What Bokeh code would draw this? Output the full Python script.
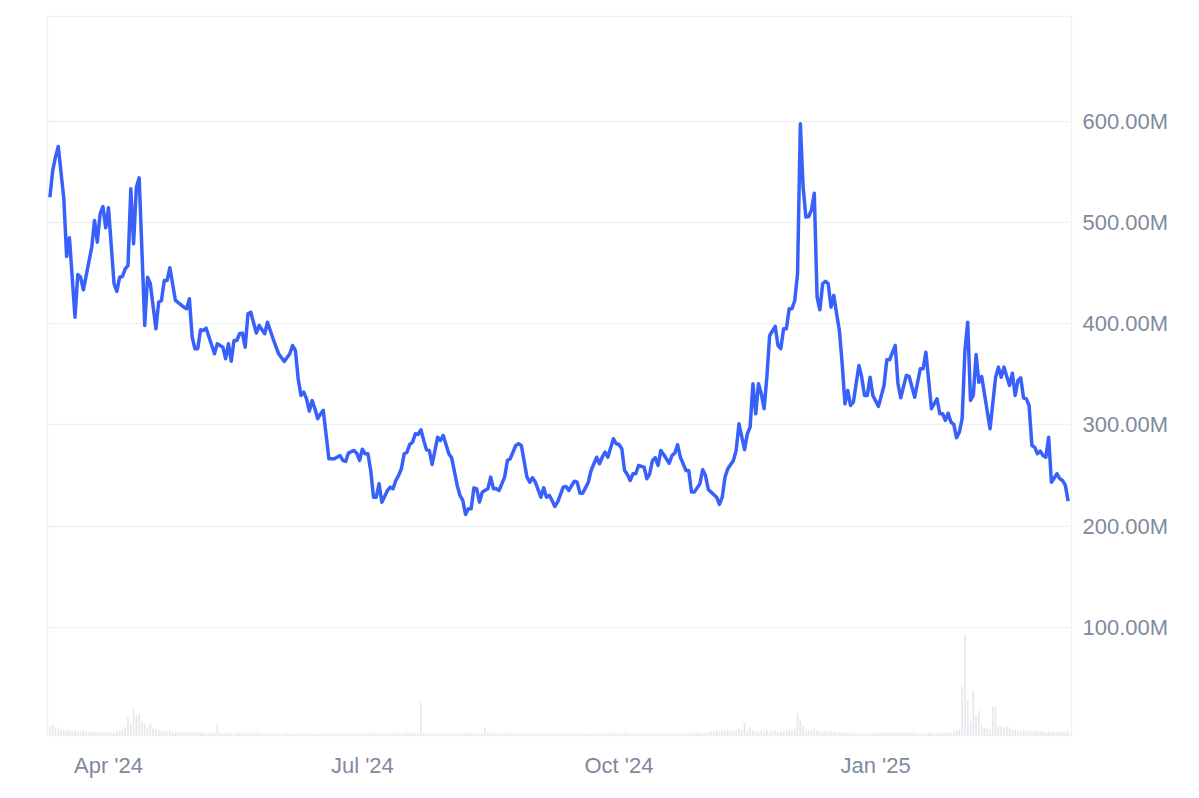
import pandas as pd
from bokeh.plotting import figure
from bokeh.models import Range1d, FixedTicker, CustomJSTickFormatter, DatetimeTickFormatter
from bokeh.embed import file_html
from bokeh.resources import INLINE

START = pd.Timestamp("2024-03-10")

# market cap series: day offset from START, value in millions USD
price_day = [
    1, 2, 3, 4, 6, 7, 8, 10, 11, 12, 13, 16, 17, 18, 19, 20, 21, 22, 24, 25,
    26, 27, 28, 29, 30, 31, 32, 33, 35, 36, 37, 39, 40, 41, 42, 43, 44, 46, 49, 50,
    51, 52, 53, 54, 55, 56, 57, 60, 61, 63, 64, 65, 66, 67, 68, 69, 70, 71, 72, 73,
    75, 76, 78, 79, 81, 83, 85, 87, 88, 89, 90, 91, 92, 93, 94, 95, 96, 97, 98, 99,
    101, 103, 105, 106, 107, 108, 110, 111, 112, 113, 114, 115, 116, 117, 118, 119, 120, 122, 123, 124,
    125, 126, 127, 128, 129, 130, 131, 132, 133, 134, 135, 136, 137, 138, 140, 141, 142, 144, 145, 147,
    148, 149, 150, 151, 152, 153, 154, 155, 156, 158, 159, 160, 161, 162, 164, 165, 166, 168, 169, 170,
    172, 173, 174, 175, 177, 178, 179, 180, 181, 182, 183, 185, 186, 187, 189, 190, 191, 192, 194, 195,
    196, 197, 198, 199, 200, 201, 203, 204, 205, 206, 207, 208, 209, 210, 211, 212, 214, 215, 216, 217,
    218, 219, 220, 221, 223, 224, 225, 226, 227, 229, 230, 231, 232, 234, 235, 236, 237, 238, 240, 241,
    242, 243, 244, 246, 247, 248, 250, 251, 252, 253, 254, 255, 256, 257, 258, 259, 261, 262, 263, 264,
    265, 266, 267, 268, 269, 270, 271, 272, 273, 274, 275, 276, 277, 278, 279, 280, 281, 282, 283, 284,
    285, 286, 287, 288, 289, 290, 291, 292, 293, 294, 295, 296, 298, 300, 301, 302, 304, 305, 306, 308,
    309, 311, 313, 314, 315, 317, 319, 320, 321, 322, 323, 324, 325, 326, 327, 328, 329, 330, 331, 332,
    333, 334, 335, 338, 340, 341, 342, 343, 344, 345, 346, 347, 348, 349, 350, 351, 352, 353, 354, 355,
    356, 357, 358, 359, 360, 362, 363, 364, 365, 366,
]
market_cap_m = [
    524.9, 551.3, 564.5, 575.0, 523.3, 466.3, 484.8, 406.4, 448.6, 446.0, 433.4, 475.5, 501.9, 480.5, 508.5, 515.7, 494.7, 514.5, 439.4, 431.8,
    445.9, 446.6, 454.2, 457.4, 533.2, 478.9, 534.8, 544.1, 398.2, 445.9, 439.4, 394.9, 421.2, 422.9, 442.6, 442.6, 455.2, 422.9, 416.3, 414.7,
    424.6, 386.6, 375.2, 375.2, 393.9, 393.2, 395.5, 370.2, 380.1, 376.7, 365.3, 380.1, 362.9, 383.3, 383.3, 390.0, 390.6, 376.7, 409.7, 411.3,
    390.6, 398.2, 390.0, 401.4, 385.0, 370.2, 362.6, 370.2, 378.4, 373.5, 345.5, 329.0, 332.3, 325.7, 313.5, 324.1, 315.9, 306.0, 310.9, 314.2,
    266.5, 266.5, 269.7, 264.8, 263.8, 272.0, 274.7, 272.0, 264.8, 275.9, 271.4, 271.4, 254.9, 228.5, 228.5, 241.8, 223.6, 235.1, 238.4, 236.8,
    245.0, 250.0, 256.6, 271.4, 273.0, 280.6, 282.9, 291.2, 290.5, 295.1, 284.5, 275.4, 274.7, 260.8, 287.8, 284.5, 289.5, 271.4, 267.5, 240.1,
    230.2, 225.3, 211.4, 217.1, 217.1, 237.8, 236.8, 223.6, 233.5, 236.8, 248.3, 236.8, 237.0, 235.1, 248.3, 264.8, 266.5, 279.6, 281.3, 279.6,
    248.3, 243.3, 247.7, 243.3, 228.5, 237.8, 228.5, 230.2, 225.3, 219.3, 223.6, 238.4, 239.1, 235.1, 244.3, 243.3, 232.5, 232.5, 243.3, 254.9,
    261.5, 268.0, 261.5, 268.0, 273.0, 268.0, 286.2, 281.3, 280.6, 276.3, 254.9, 251.0, 245.0, 251.6, 251.6, 259.8, 258.2, 246.7, 251.6, 264.8,
    267.5, 259.8, 274.7, 270.7, 262.1, 269.7, 272.0, 280.3, 268.0, 254.9, 254.9, 233.5, 233.5, 241.8, 255.6, 250.0, 236.1, 233.5, 228.5, 221.3,
    228.5, 248.3, 256.6, 264.8, 274.7, 301.0, 275.4, 291.2, 297.7, 340.6, 310.9, 340.6, 330.7, 315.9, 347.1, 388.3, 397.2, 378.4, 375.2, 394.9,
    394.9, 414.7, 414.7, 422.9, 449.2, 597.4, 534.8, 505.2, 505.9, 512.4, 528.9, 426.1, 413.7, 439.4, 441.9, 439.4, 416.3, 427.8, 409.7, 393.2,
    360.3, 320.8, 333.9, 319.1, 322.4, 340.6, 358.6, 347.1, 329.0, 329.0, 347.1, 329.0, 318.2, 338.9, 364.3, 364.3, 378.4, 340.6, 326.7, 348.8,
    347.8, 327.3, 355.4, 355.4, 371.8, 315.9, 325.7, 310.9, 310.9, 304.3, 311.5, 302.6, 300.4, 287.2, 292.8, 306.0, 373.5, 401.4, 324.1, 329.0,
    369.5, 342.1, 347.8, 296.1, 347.1, 357.0, 347.1, 357.0, 347.8, 338.9, 351.0, 329.0, 343.8, 346.5, 326.7, 325.7, 319.1, 279.6, 277.9, 271.4,
    274.0, 269.7, 268.0, 287.8, 243.3, 251.6, 246.7, 245.0, 240.1, 224.6,
]

# daily volume (millions), day 1 .. day 366
volume_m = [
    9, 11, 7, 8, 6, 5, 5, 6, 4, 5,
    4, 4, 5, 4, 3, 4, 4, 3, 4, 3,
    3, 4, 3, 3, 4, 5, 6, 9, 18, 12,
    27, 20, 22, 14, 12, 8, 12, 7, 6, 5,
    5, 4, 4, 5, 4, 3, 4, 3, 3, 4,
    3, 3, 4, 3, 3, 3, 2, 2, 3, 3,
    11, 3, 2, 3, 3, 2, 2, 3, 3, 2,
    2, 3, 2, 2, 3, 2, 2, 2, 2, 2,
    2, 2, 2, 1, 2, 2, 2, 1, 2, 2,
    2, 2, 2, 2, 2, 1, 2, 2, 2, 2,
    2, 2, 2, 1, 2, 2, 2, 2, 2, 2,
    2, 2, 2, 2, 2, 2, 3, 2, 2, 2,
    2, 2, 2, 2, 3, 2, 2, 2, 3, 3,
    3, 2, 3, 33, 3, 2, 2, 2, 2, 2,
    2, 2, 2, 2, 2, 2, 2, 2, 2, 3,
    3, 2, 2, 2, 2, 2, 7, 3, 2, 2,
    2, 2, 2, 2, 2, 3, 2, 2, 2, 2,
    2, 2, 2, 2, 2, 2, 2, 2, 2, 2,
    2, 2, 2, 2, 2, 2, 2, 2, 2, 2,
    2, 2, 2, 2, 2, 2, 2, 2, 2, 2,
    2, 3, 2, 2, 2, 2, 3, 2, 2, 2,
    2, 2, 2, 2, 2, 2, 2, 2, 2, 2,
    2, 2, 2, 2, 2, 2, 2, 2, 2, 2,
    2, 3, 3, 3, 2, 3, 3, 4, 4, 5,
    4, 5, 5, 6, 5, 4, 5, 7, 6, 13,
    5, 8, 5, 4, 4, 5, 4, 6, 4, 5,
    5, 4, 4, 4, 5, 6, 5, 7, 22, 15,
    10, 6, 5, 5, 7, 5, 4, 4, 5, 4,
    4, 4, 3, 3, 3, 3, 3, 3, 2, 2,
    2, 2, 2, 2, 2, 2, 3, 3, 3, 3,
    3, 3, 3, 3, 3, 3, 3, 3, 3, 3,
    3, 2, 2, 2, 2, 3, 3, 2, 2, 3,
    3, 3, 3, 3, 4, 5, 6, 49, 101, 35,
    14, 45, 20, 25, 10, 8, 7, 6, 29, 28,
    9, 9, 8, 9, 8, 6, 6, 5, 5, 5,
    5, 4, 4, 5, 4, 4, 4, 3, 4, 4,
    4, 3, 4, 4, 4, 5,
]

x_tick_dates = ["2024-04-01", "2024-07-01", "2024-10-01", "2025-01-01"]
y_ticks_m = [100, 200, 300, 400, 500, 600]

LINE = "#3861fb"
GRID = "#eff1f4"
TEXT = "#808a9d"
FONT = "Liberation Sans"

price_dates = [START + pd.Timedelta(days=d) for d in price_day]
vol_dates = [START + pd.Timedelta(days=i + 1) for i in range(len(volume_m))]

p = figure(
    width=1191, height=790,
    x_axis_type="datetime", y_axis_location="right",
    output_backend="svg", toolbar_location=None,
    x_range=Range1d(START + pd.Timedelta(hours=3.4), START + pd.Timedelta(days=367.2)),
    y_range=Range1d(-7, 703.5),
    min_border_left=47, min_border_top=16, min_border_right=120, min_border_bottom=55,
)
p.extra_y_ranges = {"vol": Range1d(0, 719)}

p.vbar(x=vol_dates, top=volume_m, bottom=0, width=0.6 * 86400000, y_range_name="vol",
       fill_color="#e6e8ec", line_color=None)
p.line(x=price_dates, y=market_cap_m, line_width=3.5, line_color=LINE, line_join="round")

p.outline_line_color = GRID
p.outline_line_width = 1.5
p.background_fill_color = "white"
p.border_fill_color = "white"

p.xgrid.visible = False
p.ygrid.grid_line_color = GRID
p.ygrid.grid_line_width = 1.5

yax = p.yaxis[0]
yax.ticker = FixedTicker(ticks=y_ticks_m)
yax.formatter = CustomJSTickFormatter(code="return tick.toFixed(2) + 'M';")
yax.axis_line_color = None
yax.major_tick_line_color = None
yax.minor_tick_line_color = None
yax.major_tick_out = 0
yax.major_label_standoff = 11
yax.major_label_text_color = TEXT
yax.major_label_text_font = FONT
yax.major_label_text_font_size = "22px"

xax = p.xaxis[0]
xax.ticker = FixedTicker(ticks=[pd.Timestamp(d).value / 1e6 for d in x_tick_dates])
fmt = "%b '%y"
xax.formatter = DatetimeTickFormatter(
    milliseconds=fmt, seconds=fmt, minsec=fmt, minutes=fmt, hourmin=fmt,
    hours=fmt, days=fmt, months=fmt, years=fmt)
xax.axis_line_color = None
xax.major_tick_line_color = None
xax.minor_tick_line_color = None
xax.major_tick_out = 0
xax.major_label_standoff = 17
xax.major_label_text_color = TEXT
xax.major_label_text_font = FONT
xax.major_label_text_font_size = "22px"

open("out.html", "w").write(file_html(p, INLINE))
